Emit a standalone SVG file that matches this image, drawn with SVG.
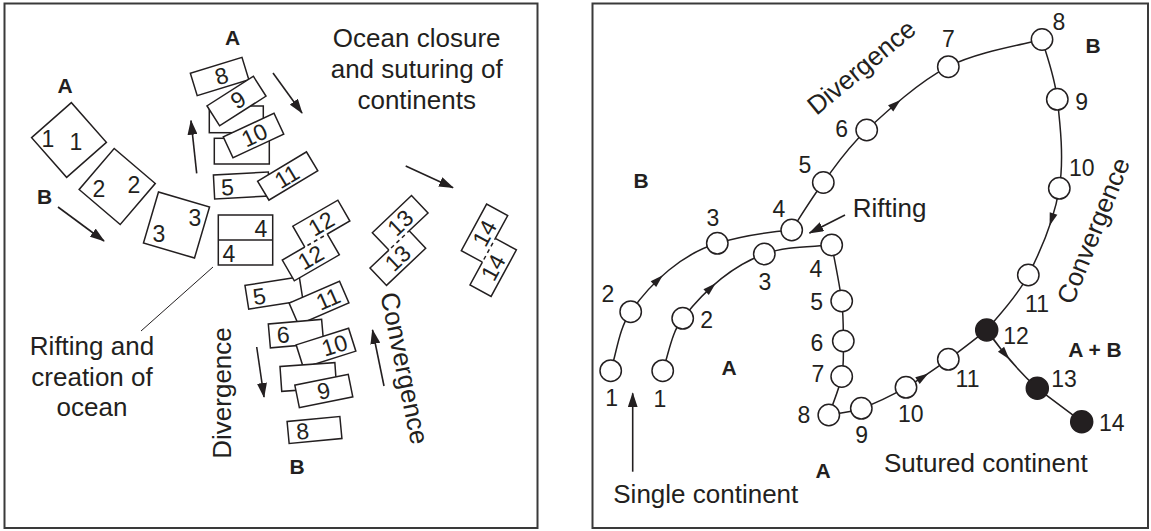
<svg xmlns="http://www.w3.org/2000/svg" width="1151" height="531" viewBox="0 0 1151 531">
<defs>
<style>
.frame{fill:none;stroke:#3a3a3a;stroke-width:2}
.bx{fill:#fff;stroke:#231f20;stroke-width:1.5}
.ol{fill:none;stroke:#231f20;stroke-width:1.5}
.dash{fill:none;stroke:#231f20;stroke-width:1.5;stroke-dasharray:4 3.5;stroke-dashoffset:-3}
.wf{fill:#fff;stroke:none}
.num{font-family:"Liberation Sans",Arial,Helvetica,sans-serif;font-size:23px;fill:#231f20;text-anchor:middle}
.lbl{font-family:"Liberation Sans",Arial,Helvetica,sans-serif;font-size:21px;font-weight:bold;fill:#231f20;text-anchor:middle}
.txt{font-family:"Liberation Sans",Arial,Helvetica,sans-serif;font-size:26px;fill:#231f20;text-anchor:middle}
.arr{fill:none;stroke:#231f20;stroke-width:1.6;marker-end:url(#ah)}
.lead{fill:none;stroke:#231f20;stroke-width:1}
.cv{fill:none;stroke:#231f20;stroke-width:1.5}
.nd{fill:#fff;stroke:#231f20;stroke-width:1.5}
.nf{fill:#231f20;stroke:#231f20;stroke-width:1.5}
.tri{fill:#231f20}
</style>
<marker id="ah" markerUnits="userSpaceOnUse" markerWidth="15" markerHeight="10" refX="14" refY="5" orient="auto"><path d="M0,0 L15,5 L0,10 Z" fill="#231f20"/></marker>
<path id="tri" d="M6,0 L-7,-4 L-7,4 Z"/>
</defs>
<rect width="1151" height="531" fill="#fff"/>
<rect class="frame" x="4.5" y="3.5" width="533" height="524.5"/>
<rect class="frame" x="592.5" y="3.5" width="555.5" height="524.5"/>

<!-- LEFT PANEL -->
<g id="left-panel">
<g id="sq-1"><rect class="bx" x="-26.5" y="-26.5" width="53" height="53" transform="translate(69,140) rotate(-41.4)"/><text class="num" x="48" y="146.5">1</text><text class="num" x="76" y="150">1</text></g>
<g id="sq-2"><rect class="bx" x="-27" y="-27" width="54" height="54" transform="translate(117.2,186.5) rotate(-49.5)"/><text class="num" x="99" y="197">2</text><text class="num" x="134" y="193">2</text></g>
<g id="sq-3"><rect class="bx" x="-26.6" y="-26.6" width="53.2" height="53.2" transform="translate(176.5,225) rotate(16.4)"/><text class="num" x="159" y="241.5">3</text><text class="num" x="195" y="226">3</text></g>
<g id="box-4"><rect class="bx" x="218.3" y="215" width="54.4" height="50"/><line class="ol" x1="218.3" y1="240" x2="272.7" y2="240"/><text class="num" x="261" y="236.5">4</text><text class="num" x="229" y="261.5">4</text></g>

<g id="box-8a" transform="translate(219.6,76.5) rotate(-17)"><rect class="bx" x="-27" y="-11.75" width="54" height="23.5"/><text class="num" x="2" y="8">8</text></g>
<g id="box-9a-back"><rect class="bx" x="209.3" y="106" width="54" height="26.7"/></g>
<g id="box-9a" transform="translate(236.5,101) rotate(-32.5)"><rect class="bx" x="-27.5" y="-11.75" width="55" height="23.5"/><text class="num" x="2" y="8">9</text></g>
<g id="box-10a-back"><rect class="bx" x="214.3" y="138.3" width="55" height="25.7"/></g>
<g id="box-10a" transform="translate(253.5,135.5) rotate(-25)"><rect class="bx" x="-28" y="-11.5" width="56" height="23"/><text class="num" x="1" y="8">10</text></g>
<g id="box-5a" transform="translate(241.5,185.5) rotate(-3)"><rect class="bx" x="-27.5" y="-12" width="55" height="24"/><text class="num" x="-14" y="9">5</text></g>
<g id="box-11a" transform="translate(287.7,176) rotate(-31)"><rect class="bx" x="-28.5" y="-11" width="57" height="22"/><text class="num" x="-1" y="8">11</text></g>

<g id="box-5b" transform="translate(274,293) rotate(-9)"><rect class="bx" x="-27.5" y="-12" width="55" height="24"/><text class="num" x="-15" y="9">5</text></g>
<g id="pair-12" transform="translate(282.3,260) rotate(-30)">
<rect class="wf" x="0" y="0" width="52" height="24"/><rect class="wf" x="26" y="-24" width="52" height="24"/>
<path class="ol" d="M26,0 L0,0 L0,24 L52,24 L52,0 M52,0 L78,0 L78,-24 L26,-24 L26,0"/>
<path class="dash" d="M26,0 L52,0"/>
<text class="num" x="52" y="-4">12</text><text class="num" x="26" y="20">12</text>
</g>
<g id="box-11b" transform="translate(319,303) rotate(-23.5)"><rect class="bx" x="-27.5" y="-11.75" width="55" height="23.5"/><text class="num" x="10" y="8">11</text></g>
<g id="box-6" transform="translate(296,333.6) rotate(-5)"><rect class="bx" x="-26.75" y="-12" width="53.5" height="24"/><text class="num" x="-13" y="8">6</text></g>
<g id="box-10b" transform="translate(326,348) rotate(-17.6)"><rect class="bx" x="-27.5" y="-12" width="55" height="24"/><text class="num" x="9" y="8">10</text></g>
<g id="box-9b-back" transform="translate(308.3,377) rotate(-4)"><rect class="bx" x="-27.5" y="-12.5" width="55" height="25"/></g>
<g id="box-9b" transform="translate(323.8,391) rotate(-11.4)"><rect class="bx" x="-27.25" y="-11.5" width="54.5" height="23"/><text class="num" x="0" y="8">9</text></g>
<g id="box-8b" transform="translate(314.5,430) rotate(-5.4)"><rect class="bx" x="-26.5" y="-11" width="53" height="22"/><text class="num" x="-12" y="8">8</text></g>

<g id="pair-13" transform="translate(370,268) rotate(-43.5)">
<rect class="wf" x="0" y="0" width="54" height="24"/><rect class="wf" x="26" y="-24" width="54" height="24"/>
<path class="ol" d="M26,0 L0,0 L0,24 L54,24 L54,0 M54,0 L80,0 L80,-24 L26,-24 L26,0"/>
<path class="dash" d="M26,0 L54,0"/>
<text class="num" x="53" y="-4">13</text><text class="num" x="27" y="20">13</text>
</g>
<g id="pair-14" transform="translate(470,285) rotate(-61.5)">
<rect class="wf" x="0" y="0" width="53" height="24"/><rect class="wf" x="26" y="-24" width="53" height="24"/>
<path class="ol" d="M26,0 L0,0 L0,24 L53,24 L53,0 M53,0 L79,0 L79,-24 L26,-24 L26,0"/>
<path class="dash" d="M26,0 L53,0"/>
<text class="num" x="52.5" y="-4">14</text><text class="num" x="26.5" y="20">14</text>
</g>

<g id="left-arrows">
<line class="arr" x1="58" y1="207" x2="104" y2="241"/>
<line class="arr" x1="196.7" y1="173.3" x2="191" y2="120.7"/>
<line class="arr" x1="273" y1="73" x2="302" y2="113"/>
<line class="arr" x1="405.7" y1="166" x2="453" y2="187.7"/>
<line class="arr" x1="256.7" y1="347" x2="264" y2="397"/>
<line class="arr" x1="384" y1="386" x2="372.5" y2="330"/>
<line class="lead" x1="213" y1="267" x2="141" y2="331"/>
</g>

<g id="left-text">
<text class="lbl" x="65" y="93">A</text>
<text class="lbl" x="232.5" y="45">A</text>
<text class="lbl" x="44.5" y="204">B</text>
<text class="lbl" x="297" y="474">B</text>
<text class="txt" x="416.7" y="46.5">Ocean closure</text>
<text class="txt" x="416.7" y="77.5">and suturing of</text>
<text class="txt" x="416.7" y="108.5">continents</text>
<text class="txt" x="92" y="355">Rifting and</text>
<text class="txt" x="92" y="386">creation of</text>
<text class="txt" x="92" y="416">ocean</text>
<text class="txt" transform="translate(231,393) rotate(-90)">Divergence</text>
<text class="txt" transform="translate(395.8,370) rotate(78.4)">Convergence</text>
</g>
</g>

<!-- RIGHT PANEL -->
<g id="connectors">
<path class="cv" d="M610.7,370.7 C617.1,350.9 618.8,328.7 630.7,311.7 C651.8,281.6 682.1,254 717.3,243.3 C741.4,236 766.6,232.2 791.7,230"/>
<path class="cv" d="M791.7,230 C797,222.1 810.8,199.2 823.3,182.5 C835.8,165.8 845.9,149.3 866.7,130 C887.5,110.7 919.1,81.8 948.3,66.7 C977.5,51.6 1026.4,44 1042,39.5"/>
<path class="cv" d="M1042,39.5 C1044.6,49.5 1054.4,74.5 1057.3,99.3 C1060.2,124.1 1064.1,159 1059.3,188.3 C1054.5,217.6 1040.4,251.4 1028.3,275 C1016.2,298.6 993.6,320.8 986.7,330"/>
<path class="cv" d="M662.7,370.7 C669,353.1 671.2,333 682.7,318.3 C704,291 731.8,265.8 764.3,254 C785.6,246.2 809.1,247 831.7,245"/>
<path class="cv" d="M831.7,245 C833.4,254.3 839.8,285 841.7,301 C843.6,317 843.3,328.4 843.3,341 C843.3,353.6 844.1,364.2 841.7,376.5 C839.3,388.8 831,408.6 828.8,415"/>
<path class="cv" d="M828.8,415 C834.2,413.9 848.4,412.9 861.3,408.3 C874.2,403.7 891.5,395.5 906,387.3 C920.5,379.1 934.9,368.9 948.3,359.3 C961.8,349.8 980.3,334.9 986.7,330"/>
<path class="cv" d="M986.7,330 Q1009,362 1037.3,388.3 L1081.7,421.7"/>
<use href="#tri" class="tri" transform="translate(658.5,279.3) rotate(-43.5)"/>
<use href="#tri" class="tri" transform="translate(711.3,287.4) rotate(-42.3)"/>
<use href="#tri" class="tri" transform="translate(896,103.8) rotate(-40.3)"/>
<use href="#tri" class="tri" transform="translate(1051.4,220.1) rotate(107.9)"/>
<use href="#tri" class="tri" transform="translate(923.3,376.7) rotate(-33.5)"/>
<use href="#tri" class="tri" transform="translate(1005.5,354.7) rotate(50.3)"/>
<line class="arr" x1="845" y1="215" x2="809.5" y2="233"/>
<line class="arr" x1="632.7" y1="471.7" x2="632.7" y2="393.3"/>
</g>

<g id="nodes-B">
<circle class="nd" cx="610.7" cy="370.7" r="10.7"/><text class="num" x="611.7" y="406">1</text>
<circle class="nd" cx="630.7" cy="311.7" r="10.7"/><text class="num" x="608" y="301.5">2</text>
<circle class="nd" cx="717.3" cy="243.3" r="10.7"/><text class="num" x="713" y="226">3</text>
<circle class="nd" cx="791.7" cy="230" r="10.7"/><text class="num" x="779" y="216.7">4</text>
<circle class="nd" cx="823.3" cy="182.5" r="10.7"/><text class="num" x="805" y="173.3">5</text>
<circle class="nd" cx="866.7" cy="130" r="10.7"/><text class="num" x="841.7" y="136.7">6</text>
<circle class="nd" cx="948.3" cy="66.7" r="10.7"/><text class="num" x="948.3" y="46.7">7</text>
<circle class="nd" cx="1042" cy="39.5" r="10.7"/><text class="num" x="1059" y="30">8</text>
<circle class="nd" cx="1057.3" cy="99.3" r="10.7"/><text class="num" x="1081.7" y="110">9</text>
<circle class="nd" cx="1059.3" cy="188.3" r="10.7"/><text class="num" x="1081.7" y="176">10</text>
<circle class="nd" cx="1028.3" cy="275" r="10.7"/><text class="num" x="1037" y="312">11</text>
</g>
<g id="nodes-A">
<circle class="nd" cx="662.7" cy="370.7" r="10.7"/><text class="num" x="660" y="406.7">1</text>
<circle class="nd" cx="682.7" cy="318.3" r="10.7"/><text class="num" x="706.7" y="328.3">2</text>
<circle class="nd" cx="764.3" cy="254" r="10.7"/><text class="num" x="765" y="290">3</text>
<circle class="nd" cx="831.7" cy="245" r="10.7"/><text class="num" x="816" y="276.7">4</text>
<circle class="nd" cx="841.7" cy="301" r="10.7"/><text class="num" x="816.7" y="310">5</text>
<circle class="nd" cx="843.3" cy="341" r="10.7"/><text class="num" x="817" y="350.7">6</text>
<circle class="nd" cx="841.7" cy="376.5" r="10.7"/><text class="num" x="818" y="381.7">7</text>
<circle class="nd" cx="828.8" cy="415" r="10.7"/><text class="num" x="804" y="423.3">8</text>
<circle class="nd" cx="861.3" cy="408.3" r="10.7"/><text class="num" x="861.7" y="443.3">9</text>
<circle class="nd" cx="906" cy="387.3" r="10.7"/><text class="num" x="910.8" y="421.7">10</text>
<circle class="nd" cx="948.3" cy="359.3" r="10.7"/><text class="num" x="967.5" y="387.3">11</text>
</g>
<g id="nodes-AB">
<circle class="nf" cx="986.7" cy="330" r="11"/><text class="num" x="1016" y="344">12</text>
<circle class="nf" cx="1037.3" cy="388.3" r="11"/><text class="num" x="1064" y="386.7">13</text>
<circle class="nf" cx="1081.7" cy="421.7" r="11"/><text class="num" x="1111.7" y="430.7">14</text>
</g>
<g id="right-text">
<text class="lbl" x="641" y="188.3">B</text>
<text class="lbl" x="729" y="375">A</text>
<text class="lbl" x="823" y="478.3">A</text>
<text class="lbl" x="1093" y="52.7">B</text>
<text class="lbl" x="1095" y="357.3">A + B</text>
<text class="txt" x="852.7" y="217" style="text-anchor:start">Rifting</text>
<text class="txt" x="705.8" y="502.7">Single continent</text>
<text class="txt" x="985.8" y="471.7">Sutured continent</text>
<text class="txt" transform="translate(867,74) rotate(-39.7)">Divergence</text>
<text class="txt" transform="translate(1101.5,234) rotate(-68.1)">Convergence</text>
</g>
</svg>
